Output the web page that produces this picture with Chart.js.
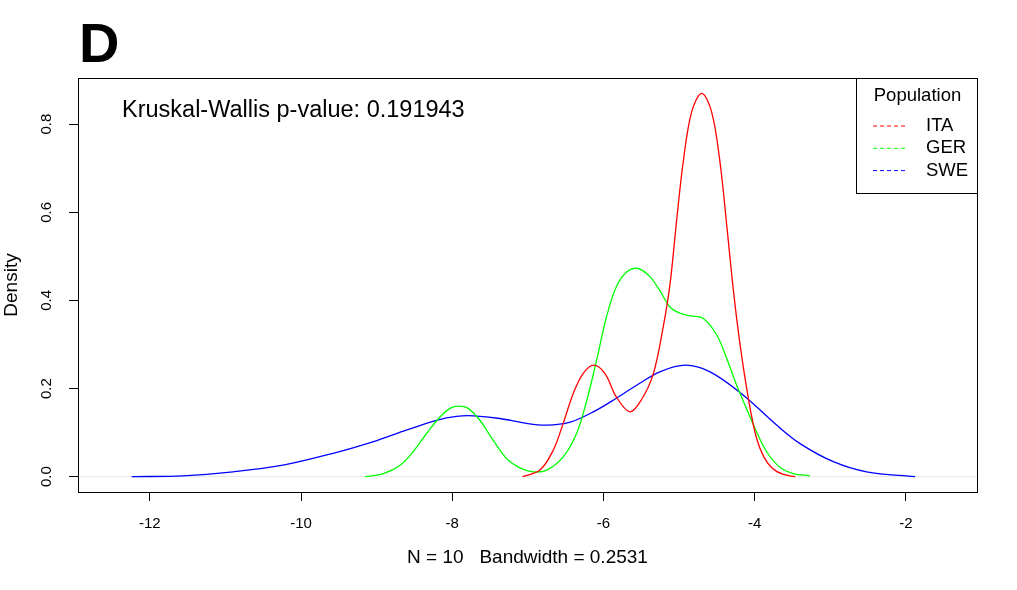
<!DOCTYPE html>
<html>
<head>
<meta charset="utf-8">
<script src="https://cdn.jsdelivr.net/npm/chart.js@4.4.1/dist/chart.umd.min.js"></script>
<style>
  html, body { margin: 0; padding: 0; background: #fff; }
  #wrap { width: 1017px; height: 590px; }
</style>
</head>
<body>
<div id="wrap"><canvas id="density" width="1017" height="590"></canvas></div>
<script>
// Density curves (x = log value, y = density)
const itaX = [-7.07, -6.84, -6.665, -6.533, -6.40, -6.27, -6.13, -5.98, -5.83, -5.65, -5.50, -5.34, -5.21, -5.12, -5.03, -4.945, -4.834, -4.70, -4.57, -4.46, -4.37, -4.28, -4.19, -4.08, -3.98, -3.88, -3.76, -3.62, -3.465];
const itaY = [0.0, 0.015, 0.060, 0.121, 0.189, 0.234, 0.253, 0.234, 0.181, 0.147, 0.174, 0.234, 0.340, 0.437, 0.586, 0.715, 0.828, 0.870, 0.828, 0.715, 0.571, 0.420, 0.295, 0.174, 0.090, 0.045, 0.018, 0.005, 0.0];

const gerX = [-9.156, -8.91, -8.69, -8.52, -8.34, -8.16, -8.03, -7.92, -7.79, -7.635, -7.46, -7.28, -7.106, -6.93, -6.75, -6.533, -6.356, -6.22, -6.09, -5.96, -5.83, -5.69, -5.55, -5.386, -5.254, -5.12, -4.99, -4.857, -4.68, -4.50, -4.37, -4.24, -4.11, -3.976, -3.84, -3.67, -3.49, -3.27];
const gerY = [0.0, 0.007, 0.026, 0.056, 0.098, 0.136, 0.155, 0.160, 0.155, 0.128, 0.083, 0.041, 0.020, 0.011, 0.015, 0.045, 0.098, 0.174, 0.265, 0.363, 0.431, 0.465, 0.473, 0.454, 0.422, 0.385, 0.371, 0.365, 0.359, 0.321, 0.268, 0.208, 0.155, 0.102, 0.056, 0.022, 0.007, 0.002];

const sweX = [-12.24, -11.56, -10.90, -10.24, -9.575, -9.05, -8.60, -8.21, -7.94, -7.72, -7.37, -7.02, -6.75, -6.44, -6.136, -5.83, -5.52, -5.254, -4.92, -4.59, -4.15, -3.71, -3.40, -2.96, -2.52, -1.88];
const sweY = [0.0, 0.002, 0.011, 0.026, 0.053, 0.079, 0.106, 0.128, 0.137, 0.138, 0.132, 0.121, 0.117, 0.124, 0.147, 0.178, 0.212, 0.238, 0.253, 0.238, 0.185, 0.117, 0.075, 0.034, 0.011, 0.0];

const xTicks = [-12, -10, -8, -6, -4, -2];
const yTicks = [0, 0.2, 0.4, 0.6, 0.8];
const yTickLabels = ['0.0', '0.2', '0.4', '0.6', '0.8'];

const populations = ['ITA', 'GER', 'SWE'];
const popColors = ['#ff0000', '#00ff00', '#0000ff'];
const legendTitle = 'Population';
const panelLabel = 'D';
const testLabel = 'Kruskal-Wallis p-value: 0.191943';
const xTitle = 'N = 10   Bandwidth = 0.2531';
const yTitle = 'Density';

const FONT = "'Liberation Sans', Arial, Helvetica, sans-serif";

function toPoints(xs, ys) {
  return xs.map((x, i) => ({ x: x, y: ys[i] }));
}

function makeSet(label, xs, ys, color) {
  return {
    label: label,
    data: toPoints(xs, ys),
    borderColor: color,
    borderWidth: 1.3,
    pointRadius: 0,
    showLine: true,
    fill: false,
    tension: 0.35
  };
}

// Box, zero line, R-style rotated y labels, legend and annotations
const rDecor = {
  id: 'rDecor',
  beforeDatasetsDraw(chart) {
    const { ctx, chartArea: a, scales } = chart;
    const y0 = scales.y.getPixelForValue(0);
    ctx.save();
    ctx.strokeStyle = '#e6e6e6';
    ctx.lineWidth = 1;
    ctx.beginPath();
    ctx.moveTo(a.left, y0);
    ctx.lineTo(a.right, y0);
    ctx.stroke();
    ctx.restore();
  },
  afterDraw(chart) {
    const { ctx, chartArea: a, scales } = chart;
    ctx.save();
    // plot box
    ctx.strokeStyle = '#000';
    ctx.lineWidth = 1;
    ctx.strokeRect(a.left + 0.5, a.top + 0.5, a.right - a.left, a.bottom - a.top);

    // y tick labels, rotated like R's las = 0
    ctx.fillStyle = '#000';
    ctx.font = '15px ' + FONT;
    ctx.textAlign = 'center';
    ctx.textBaseline = 'middle';
    yTicks.forEach((v, i) => {
      const py = scales.y.getPixelForValue(v);
      ctx.save();
      ctx.translate(47, py);
      ctx.rotate(-Math.PI / 2);
      ctx.fillText(yTickLabels[i], 0, 0);
      ctx.restore();
    });

    // axis titles
    ctx.font = '19px ' + FONT;
    ctx.fillText(xTitle, (a.left + a.right) / 2, 558);
    ctx.save();
    ctx.translate(12, (a.top + a.bottom) / 2);
    ctx.rotate(-Math.PI / 2);
    ctx.fillText(yTitle, 0, 0);
    ctx.restore();

    // panel letter
    ctx.textAlign = 'left';
    ctx.textBaseline = 'alphabetic';
    ctx.font = 'bold 56px ' + FONT;
    ctx.fillText(panelLabel, 79, 62);

    // test result
    ctx.font = '23.5px ' + FONT;
    ctx.fillText(testLabel, 122, 117);

    // legend
    const lx = 856, ly = a.top, lw = a.right - lx, lh = 115;
    ctx.fillStyle = '#fff';
    ctx.fillRect(lx, ly, lw, lh);
    ctx.strokeStyle = '#000';
    ctx.strokeRect(lx + 0.5, ly + 0.5, lw, lh);
    ctx.fillStyle = '#000';
    ctx.font = '18.5px ' + FONT;
    ctx.textAlign = 'center';
    ctx.textBaseline = 'middle';
    ctx.fillText(legendTitle, lx + lw / 2 + 1, 96);
    ctx.textAlign = 'left';
    populations.forEach((p, i) => {
      const ry = 126 + i * 22.3;
      ctx.strokeStyle = popColors[i];
      ctx.lineWidth = 1;
      ctx.setLineDash([4, 3]);
      ctx.beginPath();
      ctx.moveTo(873, ry);
      ctx.lineTo(908, ry);
      ctx.stroke();
      ctx.setLineDash([]);
      ctx.fillStyle = '#000';
      ctx.fillText(p, 926, ry);
    });
    ctx.restore();
  }
};

new Chart(document.getElementById('density'), {
  type: 'scatter',
  data: {
    datasets: [
      makeSet(populations[0], itaX, itaY, popColors[0]),
      makeSet(populations[1], gerX, gerY, popColors[1]),
      makeSet(populations[2], sweX, sweY, popColors[2])
    ]
  },
  options: {
    responsive: false,
    animation: false,
    layout: { padding: { top: 78, right: 40, left: 0, bottom: 0 } },
    plugins: {
      legend: { display: false },
      tooltip: { enabled: false }
    },
    scales: {
      x: {
        type: 'linear',
        min: -12.95,
        max: -1.06,
        afterBuildTicks: s => { s.ticks = xTicks.map(v => ({ value: v })); },
        afterFit: s => { s.height = 98; },
        grid: { drawOnChartArea: false, drawTicks: true, tickLength: 9, color: '#000', lineWidth: 1 },
        border: { display: true, color: '#000' },
        ticks: {
          color: '#000',
          padding: 14,
          maxRotation: 0,
          font: { family: FONT, size: 15 },
          callback: v => String(v)
        }
      },
      y: {
        type: 'linear',
        min: -0.0348,
        max: 0.9048,
        afterBuildTicks: s => { s.ticks = yTicks.map(v => ({ value: v })); },
        afterFit: s => { s.width = 78; },
        grid: { drawOnChartArea: false, drawTicks: true, tickLength: 9, color: '#000', lineWidth: 1 },
        border: { display: true, color: '#000' },
        ticks: { color: 'rgba(0,0,0,0)', font: { family: FONT, size: 15 } }
      }
    }
  },
  plugins: [rDecor]
});
</script>
</body>
</html>
